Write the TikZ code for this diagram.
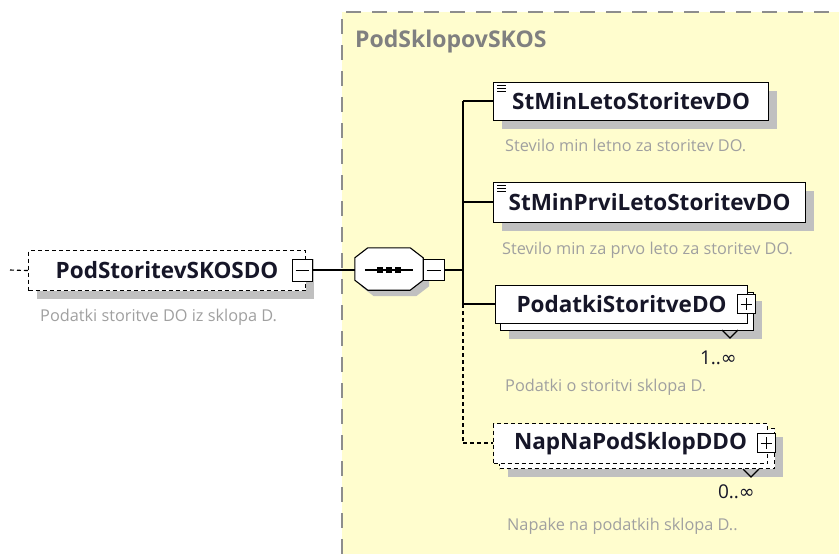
\documentclass[tikz,border=0pt]{standalone}
\usepackage{fontspec}
\setmainfont{Open Sans}
\newfontfamily\symf{DejaVu Sans}
\usetikzlibrary{calc,shadows}
\definecolor{panelyellow}{RGB}{255,253,206}
\definecolor{shadowgray}{RGB}{192,192,192}
\definecolor{descgray}{RGB}{160,160,160}
\definecolor{titlegray}{RGB}{128,128,128}
\definecolor{ink}{RGB}{22,22,40}
\tikzset{
  elem/.style={draw=black, line width=1.1pt, fill=white, anchor=north west, inner sep=0pt,
    text=ink, font=\bfseries\fontsize{22.5}{24}\selectfont},
  optelem/.style={elem, dash pattern=on 4pt off 3pt},
  shad/.style={drop shadow={shadow xshift=8pt, shadow yshift=-8pt, opacity=1, fill=shadowgray}},
  desc/.style={anchor=west, inner sep=0pt, text=descgray, font=\fontsize{16.3}{18}\selectfont},
  mult/.style={anchor=east, inner sep=0pt, text=ink, font=\fontsize{19}{21}\selectfont},
  pmbox/.style={draw=black, line width=1pt, fill=white, minimum width=18pt, minimum height=19pt, inner sep=0pt},
  conn/.style={line width=1.1pt, black},
  optconn/.style={conn, dash pattern=on 4pt off 3pt},
}
\newcommand{\minussign}[1]{\draw[line width=1pt] ($(#1.west)+(4,0)$) -- ($(#1.east)+(-4,0)$);}
\newcommand{\plussign}[1]{\draw[line width=1pt] ($(#1.west)+(4,0)$) -- ($(#1.east)+(-4,0)$) ($(#1.north)+(0,4)$) -- ($(#1.south)+(0,-4)$);}
\newcommand{\simpletype}[1]{\draw[line width=0.8pt] ($(#1.north west)+(4,3)$) -- +(9,0) ($(#1.north west)+(4,6)$) -- +(9,0) ($(#1.north west)+(4,9)$) -- +(9,0);}
\begin{document}
\begin{tikzpicture}[x=1pt,y=-1pt]
\useasboundingbox (0,0) rectangle (839,554);
\fill[white] (0,0) rectangle (839,554);
% panel
\fill[panelyellow] (342,12) rectangle (839,554);
\draw[titlegray!90, line width=1.6pt, dash pattern=on 15pt off 11pt] (342,554) -- (342,12) -- (839,12);
\node[anchor=west, inner sep=0pt, text=titlegray, font=\bfseries\fontsize{23}{25}\selectfont] (ptitle) at (355,42) {PodSklopovSKOS};

% root element
\node[optelem, shad, minimum width=277pt, minimum height=40pt] (root) at (28,250) {PodStoritevSKOSDO\hspace{10pt}};
\node[pmbox, minimum width=20pt, minimum height=22pt] (rootm) at (302,270) {};
\minussign{rootm}
\coordinate (rin) at (10,270);
\draw[optconn] (rin) -- (root.west);
\node[desc] (rootd) at (40,317) {Podatki storitve DO iz sklopa D.};

% sequence compositor
\node[minimum width=68pt, minimum height=42pt, inner sep=0pt] (seq) at (389,269) {};
\fill[shadowgray] ($(seq.north west)+(19,6)$) -- ($(seq.north east)+(-7,6)$) -- ($(seq.north east)+(6,16)$) -- ($(seq.south east)+(6,-4)$) -- ($(seq.south east)+(-7,6)$) -- ($(seq.south west)+(19,6)$) -- ($(seq.south west)+(6,-4)$) -- ($(seq.north west)+(6,16)$) -- cycle;
\draw[conn, fill=white] ($(seq.north west)+(13,0)$) -- ($(seq.north east)+(-13,0)$) -- ($(seq.north east)+(0,10)$) -- ($(seq.south east)+(0,-10)$) -- ($(seq.south east)+(-13,0)$) -- ($(seq.south west)+(13,0)$) -- ($(seq.south west)+(0,-10)$) -- ($(seq.north west)+(0,10)$) -- cycle;
\draw[conn] ($(seq.west)+(10,1)$) -- ($(seq.east)+(-10,1)$);
\foreach \dx in {-9,0,9} \fill[black] ($(seq.center)+(\dx,1)+(-3,-3)$) rectangle +(6,6);
\node[pmbox, minimum width=21pt, minimum height=21pt] (seqm) at (433.5,270) {};
\minussign{seqm}
\draw[conn] (rootm.east) -- (seq.west |- rootm.east);
\coordinate (tj) at (463,270);
\draw[conn] (seqm.east) -- (tj);

% children
\node[elem, shad, minimum width=275pt, minimum height=38pt] (e1) at (493,82) {StMinLetoStoritevDO};
\simpletype{e1}
\node[desc] (e1d) at (505,145) {Stevilo min letno za storitev DO.};

\node[elem, shad, minimum width=312pt, minimum height=40pt] (e2) at (493,182) {StMinPrviLetoStoritevDO};
\simpletype{e2}
\node[desc] (e2d) at (502,250) {Stevilo min za prvo leto za storitev DO.};

\node[elem, shad, minimum width=253pt, minimum height=38pt] (e3b) at (500,292) {};
\node[elem, minimum width=252pt, minimum height=38pt] (e3) at (495,285) {PodatkiStoritveDO\hspace{10pt}};
\node[pmbox] (e3p) at (746,304) {};
\plussign{e3p}
\coordinate (e3v) at (730,338);
\draw[conn] ($(e3v)+(-8,-8)$) -- (e3v) -- ($(e3v)+(8,-8)$);
\node[mult] (e3m) at (737,358) {1..{\symf ∞}};
\node[desc] (e3d) at (505,387) {Podatki o storitvi sklopa D.};

\node[optelem, shad, minimum width=275pt, minimum height=40pt] (e4b) at (499,428) {};
\node[optelem, minimum width=274pt, minimum height=40pt] (e4) at (493,423) {NapNaPodSklopDDO\hspace{12pt}};
\node[pmbox] (e4p) at (766,443) {};
\plussign{e4p}
\coordinate (e4v) at (751,477);
\draw[conn] ($(e4v)+(-8,-8)$) -- (e4v) -- ($(e4v)+(8,-8)$);
\node[mult] (e4m) at (755,492) {0..{\symf ∞}};
\node[desc] (e4d) at (507,526) {Napake na podatkih sklopa D..};

% trunk and branches
\coordinate (t1) at (463,101);
\coordinate (t2) at (463,202);
\coordinate (t3) at (463,304);
\coordinate (t4) at (463,443);
\draw[conn] (t1) -- (t3);
\draw[optconn] (t3) -- (t4);
\draw[conn] (t1) -- (t1 -| e1.west);
\draw[conn] (t2) -- (t2 -| e2.west);
\draw[conn] (t3) -- (t3 -| e3.west);
\draw[optconn] (t4) -- (t4 -| e4.west);
\end{tikzpicture}
\end{document}
